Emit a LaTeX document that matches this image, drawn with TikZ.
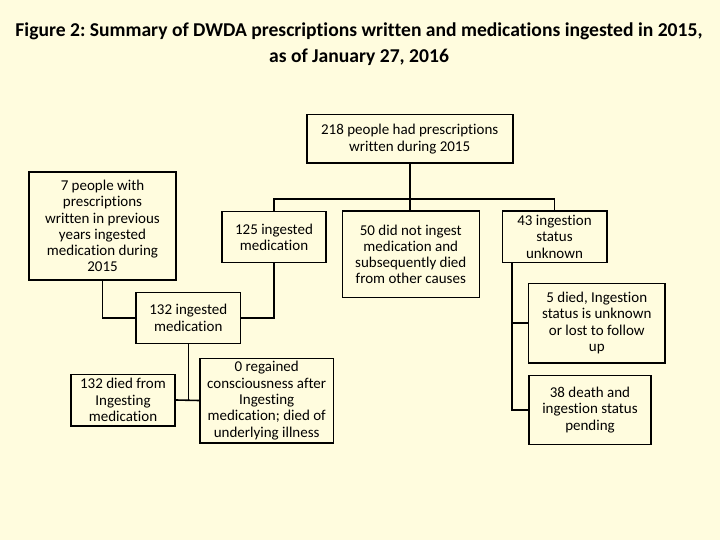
\documentclass[tikz,border=0pt]{standalone}
\usepackage{fontspec}
\setmainfont[Ligatures=NoCommon]{Carlito}
\frenchspacing
\definecolor{paper}{RGB}{255,252,222}
\begin{document}
\begin{tikzpicture}[x=1pt,y=-1pt,
  box/.style={draw, line width=1.6pt, align=center, inner sep=0pt,
    font=\fontsize{15}{16.3}\selectfont},
  link/.style={line width=1.6pt}]
\fill[paper] (0,0) rectangle (720,540);

\node[font=\bfseries\fontsize{19.6}{26}\selectfont, align=center] (title) at (359,44)
  {Figure 2: Summary of DWDA prescriptions written and medications ingested in 2015,\\
   as of January 27, 2016};

\node[box, minimum width=206pt, minimum height=48.6pt] (t218) at (409.7,139)
  {218 people had prescriptions\\written during 2015};
\node[box, minimum width=147pt, minimum height=108pt] (p7) at (102.5,226)
  {7 people with\\prescriptions\\written in previous\\years ingested\\medication during\\2015};
\node[box, minimum width=104pt, minimum height=50.6pt] (i125) at (274,237)
  {125 ingested\\medication};
\node[box, minimum width=137pt, minimum height=86.7pt] (n50) at (410.8,254.3)
  {50 did not ingest\\medication and\\subsequently died\\from other causes};
\node[box, minimum width=104.4pt, minimum height=51.3pt] (u43) at (554.5,236.7)
  {43 ingestion\\status\\unknown};
\node[box, minimum width=136.3pt, minimum height=79.4pt] (d5) at (596.8,323)
  {5 died, Ingestion\\status is unknown\\or lost to follow\\up};
\node[box, minimum width=121.7pt, minimum height=69pt] (p38) at (590,409.8)
  {38 death and\\ingestion status\\pending};
\node[box, minimum width=104.7pt, minimum height=51pt] (i132) at (188.3,317.8)
  {132 ingested\\medication};
\node[box, minimum width=104pt, minimum height=51.4pt] (d132) at (123,400)
  {132 died from\\Ingesting\\medication};
\node[box, minimum width=133.3pt, minimum height=84.4pt] (r0) at (266.7,400.5)
  {0 regained\\consciousness after\\Ingesting\\medication; died of\\underlying illness};

% branches
\coordinate (bar) at (410,199.3);
\coordinate (s43) at ([xshift=10.4pt]u43.south west);

\draw[link] (t218.south) -- (t218.south |- n50.north);
\draw[link] (i125.north) -- (i125.north |- bar) -- (u43.north |- bar) -- (u43.north);
\draw[link] (p7.south) -- (p7.south |- i132.west) -- (i132.west);
\draw[link] (i125.south) -- (i125.south |- i132.east) -- (i132.east);
\draw[link] (i132.south) -- (i132.south |- d132.east);
\draw[link] (d132.east) -- (r0.west);
\draw[link] (s43) -- (s43 |- p38.west) -- (p38.west);
\draw[link] (s43 |- d5.west) -- (d5.west);
\end{tikzpicture}
\end{document}
